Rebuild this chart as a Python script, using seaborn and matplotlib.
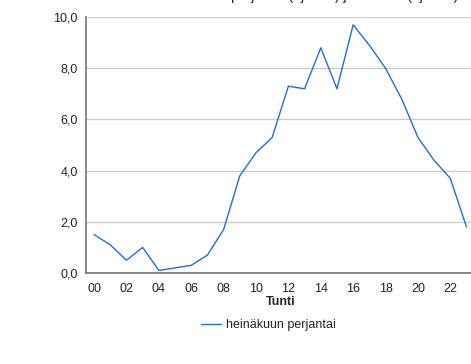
import pandas as pd
import matplotlib
matplotlib.use("Agg")
import matplotlib.pyplot as plt
import seaborn as sns

hours = list(range(24))
hour_labels = [f"{h:02d}" for h in range(0, 24, 2)]
traffic = [1.5, 1.1, 0.5, 1.0, 0.1, 0.2, 0.3, 0.7, 1.7, 3.8, 4.7, 5.3,
           7.3, 7.2, 8.8, 7.2, 9.7, 8.9, 8.0, 6.8, 5.3, 4.4, 3.7, 1.8]
series_name = "heinäkuun perjantai"

df = pd.DataFrame({"Tunti": hours, "arvo": traffic, "sarja": series_name})

sns.set_style("white")
plt.rcParams['font.family'] = ['Liberation Sans', 'DejaVu Sans']

fig = plt.figure(figsize=(4.71, 3.64), dpi=100)
ax = fig.add_axes([0.1826, 0.25, 0.825, 0.703])

sns.lineplot(data=df, x="Tunti", y="arvo", hue="sarja", palette=["#1f6fd6"],
             linewidth=1.0, ax=ax, legend=False)

ax.set_xlim(-0.5, 23.5)
ax.set_ylim(0, 10)
ax.set_xticks(range(0, 24, 2))
ax.set_xticklabels(hour_labels, fontsize=9, color="#222222")
ax.set_yticks([0, 2, 4, 6, 8, 10])
ax.set_yticklabels([f"{v:.1f}".replace(".", ",") for v in [0, 2, 4, 6, 8, 10]],
                   fontsize=9, color="#222222")
ax.tick_params(axis="x", length=0, pad=7)
ax.tick_params(axis="y", length=0, pad=6)
ax.yaxis.grid(True, color="#cccccc", linewidth=1)
ax.set_axisbelow(True)
for s in ["top", "right"]:
    ax.spines[s].set_visible(False)
ax.spines["left"].set_color("#777777")
ax.spines["bottom"].set_color("#777777")
ax.spines["left"].set_linewidth(1.2)
ax.spines["bottom"].set_linewidth(1.2)
ax.set_xlabel("Tunti", fontsize=9, fontweight="bold", labelpad=1)
ax.set_ylabel("")

fig.text(0.6, 1.0, "Liikenne heinäkuun perjantai (ajon./h) ja vertailu (ajon./h)",
         ha="center", va="baseline", fontsize=10, color="#222222")

handle = plt.Line2D([], [], color="#1f6fd6", linewidth=1.0)
fig.legend([handle], [series_name], loc="center", bbox_to_anchor=(0.57, 0.107),
           frameon=False, fontsize=9, handlelength=1.6, handletextpad=0.4)

fig.savefig("out.png", dpi=100)
